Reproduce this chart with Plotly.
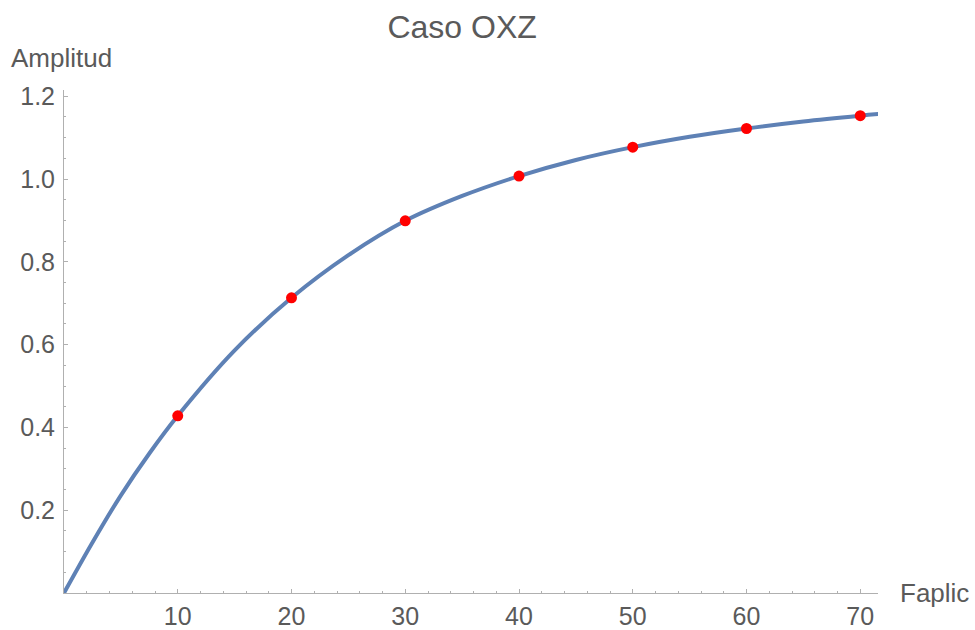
import plotly.graph_objects as go

# measured data points
faplic = [10, 20, 30, 40, 50, 60, 70]
amplitud = [0.428, 0.713, 0.899, 1.007, 1.077, 1.122, 1.153]

# fitted curve
curve_x = [0, 2.5, 5, 7.5, 10, 15, 20, 25, 30, 35, 40, 45, 50, 55, 60, 65, 70, 71.6]
curve_y = [0, 0.122, 0.236, 0.337, 0.428, 0.586, 0.713, 0.816, 0.899, 0.959, 1.007,
           1.046, 1.077, 1.102, 1.122, 1.139, 1.153, 1.157]

x_ticks = [10, 20, 30, 40, 50, 60, 70]
y_ticks = [0.2, 0.4, 0.6, 0.8, 1.0, 1.2]
y_tick_text = ["0.2", "0.4", "0.6", "0.8", "1.0", "1.2"]

title = "Caso OXZ"
x_label = "Faplic"
y_label = "Amplitud"

TXT = "#5a5a5a"
AX = "#b0b0b0"
FONT = "Liberation Sans, Arial, sans-serif"

W, H = 975, 630
L, R, T, B = 64, 97, 90, 37
PW, PH = W - L - R, H - T - B

fig = go.Figure()
fig.add_trace(go.Scatter(x=curve_x, y=curve_y, mode="lines",
                         line=dict(color="#5E81B5", width=4, shape="spline", smoothing=1.0),
                         hoverinfo="skip", showlegend=False, cliponaxis=False))
fig.add_trace(go.Scatter(x=faplic, y=amplitud, mode="markers", marker=dict(color="red", size=11),
                         showlegend=False, cliponaxis=False))

axis_common = dict(showgrid=False, zeroline=False, showline=True, linecolor=AX, linewidth=1,
                   ticks="inside", ticklen=4, tickcolor=AX, tickwidth=1, automargin=False,
                   tickfont=dict(family=FONT, size=25, color=TXT))

fig.update_xaxes(range=[0, 71.56], tickvals=x_ticks, ticklabelstandoff=1,
                 minor=dict(dtick=2, ticks="inside", ticklen=2, tickcolor=AX), **axis_common)
fig.update_yaxes(range=[0, 1.215], tickvals=y_ticks, ticktext=y_tick_text, ticklabelstandoff=3,
                 minor=dict(dtick=0.05, ticks="inside", ticklen=2, tickcolor=AX), **axis_common)

# small axis extensions past the origin (Mathematica style)
fig.add_shape(type="line", xref="x", yref="y", x0=-0.65, x1=0, y0=0, y1=0, line=dict(color=AX, width=1))
fig.add_shape(type="line", xref="x", yref="y", x0=0, x1=0, y0=-0.024, y1=0, line=dict(color=AX, width=1))

fig.add_annotation(text=y_label, xref="paper", yref="paper",
                   x=(9 - L) / PW, y=(H - B - 58) / PH, xanchor="left", yanchor="middle",
                   showarrow=False, font=dict(family=FONT, size=26, color=TXT))
fig.add_annotation(text=x_label, xref="paper", yref="paper",
                   x=(898 - L) / PW, y=0, xanchor="left", yanchor="middle",
                   showarrow=False, font=dict(family=FONT, size=26, color=TXT))

fig.update_layout(
    width=W, height=H,
    margin=dict(l=L, r=R, t=T, b=B, autoexpand=False),
    paper_bgcolor="white", plot_bgcolor="white",
    title=dict(text=title, xref="container", yref="container", x=0.474, y=1 - 27 / H,
               xanchor="center", yanchor="middle", font=dict(family=FONT, size=32, color=TXT)),
)

fig.write_html("out.html", config={"displayModeBar": False},
               post_script="document.body.style.margin='0';")
